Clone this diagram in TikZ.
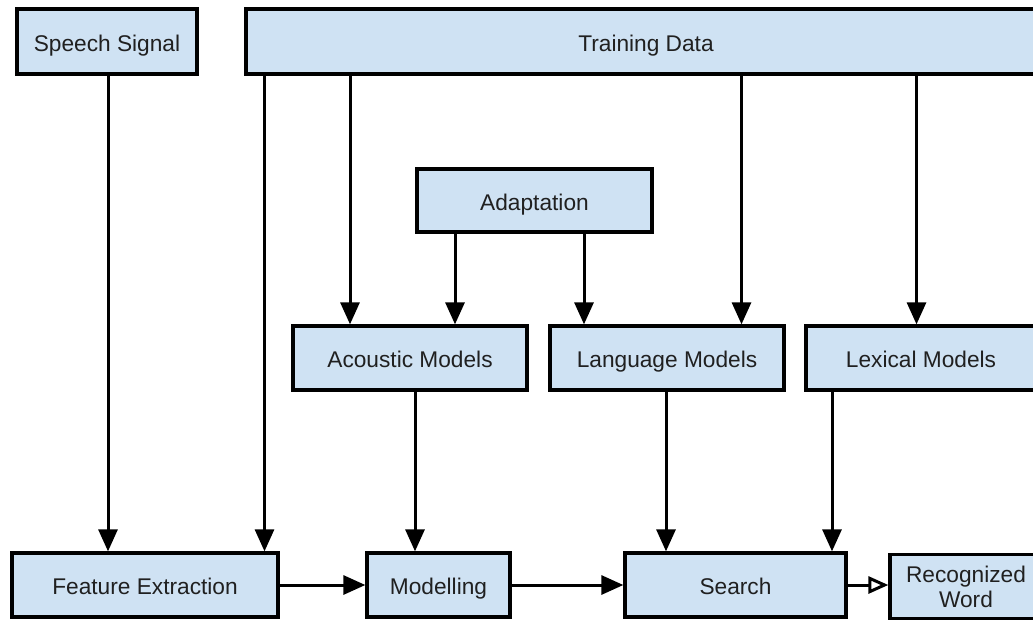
\documentclass[tikz,border=0pt]{standalone}
\usepackage{fontspec}
\setmainfont{Liberation Sans}
\usetikzlibrary{arrows.meta}
\definecolor{boxfill}{HTML}{CFE2F3}
\definecolor{txt}{HTML}{202020}
\begin{document}
\begin{tikzpicture}[x=1pt,y=-1pt,
  blk/.style={draw=black, line width=3.3pt, fill=boxfill, inner sep=0pt,
    text=txt, font=\fontsize{22.7}{25}\selectfont, align=center},
  oneline/.style={blk, text height=21pt, text depth=2pt},
  arr/.style={line width=3pt, -{Triangle[length=22pt,width=19pt]}},
  oarr/.style={line width=3pt, -{Triangle[open,fill=white,length=20pt,width=17pt,line width=3pt]}}]
\useasboundingbox (0,0) rectangle (1033,619);
\clip (0,0) rectangle (1033,619);
\fill[white] (0,0) rectangle (1033,619);

% boxes
\node[oneline, minimum width=180pt, minimum height=65pt] (speech) at (107,41.5) {Speech Signal};
\node[oneline, minimum width=800pt, minimum height=65pt] (train) at (646,41.5) {Training Data};
\node[oneline, minimum width=235pt, minimum height=63pt] (adapt) at (534.5,200.5) {Adaptation};
\node[oneline, minimum width=234pt, minimum height=64pt] (acoustic) at (410,358) {Acoustic Models};
\node[oneline, minimum width=234pt, minimum height=64pt] (language) at (667,358) {Language Models};
\node[oneline, minimum width=230pt, minimum height=64pt] (lexical) at (921,358) {Lexical Models};
\node[oneline, minimum width=266pt, minimum height=64pt] (feature) at (145,585) {Feature Extraction};
\node[oneline, minimum width=143pt, minimum height=64pt] (modelling) at (438.5,585) {Modelling};
\node[oneline, minimum width=221pt, minimum height=64pt] (search) at (735.5,585) {Search};
\node[blk, minimum width=152pt, minimum height=64pt] (recog) at (966,586.5) {Recognized\\Word};

% columns of the vertical connectors
\coordinate (c1) at (108,0);
\coordinate (c2) at (264.5,0);
\coordinate (c3) at (350,0);
\coordinate (c4) at (455,0);
\coordinate (c5) at (584,0);
\coordinate (c6) at (741.5,0);
\coordinate (c7) at (916.5,0);
\coordinate (c8) at (415,0);
\coordinate (c9) at (666,0);
\coordinate (c10) at (832,0);

% vertical connectors
\draw[arr] (speech.south -| c1) -- (feature.north -| c1);
\draw[arr] (train.south -| c2) -- (feature.north -| c2);
\draw[arr] (train.south -| c3) -- (acoustic.north -| c3);
\draw[arr] (adapt.south -| c4) -- (acoustic.north -| c4);
\draw[arr] (adapt.south -| c5) -- (language.north -| c5);
\draw[arr] (train.south -| c6) -- (language.north -| c6);
\draw[arr] (train.south -| c7) -- (lexical.north -| c7);
\draw[arr] (acoustic.south -| c8) -- (modelling.north -| c8);
\draw[arr] (language.south -| c9) -- (search.north -| c9);
\draw[arr] (lexical.south -| c10) -- (search.north -| c10);

% horizontal connectors
\draw[arr] (feature.east) -- (modelling.west);
\draw[arr] (modelling.east) -- (search.west);
\draw[oarr] (search.east) -- (recog.west |- search.east);
\end{tikzpicture}
\end{document}
